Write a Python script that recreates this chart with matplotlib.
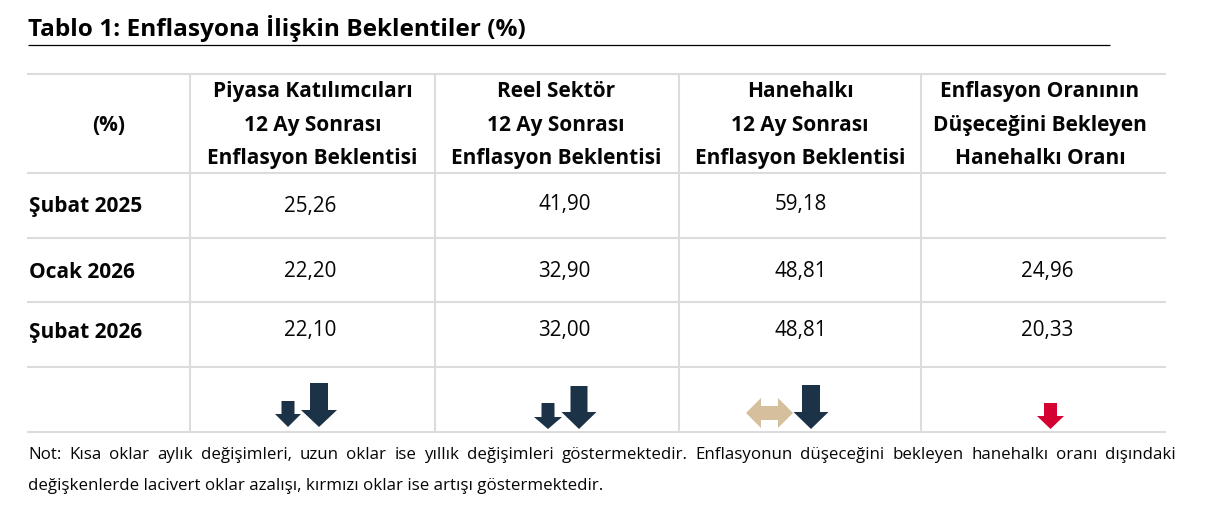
import matplotlib
matplotlib.use('Agg')
import matplotlib.pyplot as plt
from matplotlib.patches import Polygon

plt.rcParams['font.family'] = ['Open Sans', 'DejaVu Sans']

TITLE = 'Tablo 1: Enflasyona İlişkin Beklentiler (%)'
CORNER = '(%)'
HEADERS = [
    ['Piyasa Katılımcıları', '12 Ay Sonrası', 'Enflasyon Beklentisi'],
    ['Reel Sektör', '12 Ay Sonrası', 'Enflasyon Beklentisi'],
    ['Hanehalkı', '12 Ay Sonrası', 'Enflasyon Beklentisi'],
    ['Enflasyon Oranının', 'Düşeceğini Bekleyen', 'Hanehalkı Oranı'],
]
ROWS = ['Şubat 2025', 'Ocak 2026', 'Şubat 2026']
PIYASA = ['25,26', '22,20', '22,10']
REEL = ['41,90', '32,90', '32,00']
HANE = ['59,18', '48,81', '48,81']
DUSECEK = ['', '24,96', '20,33']
NOTE_1 = ('Not: Kısa oklar aylık değişimleri, uzun oklar ise yıllık değişimleri gösterme'
          'ktedir. Enflasyonun düşeceğini bekleyen hanehalkı oranı dışındaki')
NOTE_2 = 'değişkenlerde lacivert oklar azalışı, kırmızı oklar ise artışı göstermektedir.'

NAVY = '#1c3247'
TAN = '#d6bf9c'
RED = '#d50032'
GRID = '#dcdcdc'
INK = '#050505'
HEAD_X = [312.5, 556, 800, 1040]
COL_X = [310, 564.5, 801, 1047.5]
HEAD_Y = [97, 131, 164]
ROW_Y = [[212, 210, 210, 210], [277, 277, 277, 277], [336, 336, 336, 336]]
ROW_LABEL_Y = [212, 278, 338]

fig = plt.figure(figsize=(12.13, 5.14), dpi=100)
ax = fig.add_axes([0, 0, 1, 1])
ax.set_xlim(0, 1213)
ax.set_ylim(514, 0)
ax.axis('off')


def down_arrow(cx, top, neck, bottom, shaft, head, color):
    pts = [(cx - shaft, top), (cx + shaft, top), (cx + shaft, neck), (cx + head, neck),
           (cx, bottom), (cx - head, neck), (cx - shaft, neck)]
    ax.add_patch(Polygon(pts, closed=True, fc=color, ec='none'))


def both_arrow(x0, x1, cy, shaft, head, neck, color):
    pts = [(x0, cy), (x0 + neck, cy - head), (x0 + neck, cy - shaft), (x1 - neck, cy - shaft),
           (x1 - neck, cy - head), (x1, cy), (x1 - neck, cy + head), (x1 - neck, cy + shaft),
           (x0 + neck, cy + shaft), (x0 + neck, cy + head)]
    ax.add_patch(Polygon(pts, closed=True, fc=color, ec='none'))


def justified(line, x0, x1, y, size):
    words = line.split(' ')
    rend = fig.canvas.get_renderer()
    items = [ax.text(x0, y, w, fontsize=size, va='baseline', ha='left', color=INK) for w in words]
    widths = [t.get_window_extent(rend).width for t in items]
    gap = (x1 - x0 - sum(widths)) / (len(words) - 1)
    x = x0
    for t, w in zip(items, widths):
        t.set_x(x)
        x += w + gap


# title and rule
ax.text(28, 36, TITLE, fontsize=17.6, fontweight='bold', va='baseline', ha='left', color='black')
ax.plot([28, 1110], [44.5, 44.5], color='black', lw=0.9, solid_capstyle='butt')

# table grid
for y in [74, 173, 238, 302, 367, 432]:
    ax.plot([27, 1166], [y, y], color=GRID, lw=1.5, solid_capstyle='butt')
for x in [190, 435, 679, 921]:
    ax.plot([x, x], [74, 432], color=GRID, lw=1.5, solid_capstyle='butt')

# header
ax.text(108.5, 131, CORNER, fontsize=15, fontweight='bold', va='baseline', ha='center', color=INK)
for x, lines in zip(HEAD_X, HEADERS):
    for y, s in zip(HEAD_Y, lines):
        ax.text(x, y, s, fontsize=15, fontweight='bold', va='baseline', ha='center', color=INK)

# body
for i, lab in enumerate(ROWS):
    ax.text(29, ROW_LABEL_Y[i], lab, fontsize=15, fontweight='bold', va='baseline', ha='left', color=INK)
    for j, col in enumerate([PIYASA, REEL, HANE, DUSECEK]):
        ax.text(COL_X[j], ROW_Y[i][j], col[i], fontsize=14.9, va='baseline', ha='center', color=INK)

# arrows
down_arrow(288, 401, 414, 427, 6.5, 13, NAVY)
down_arrow(319, 383, 410, 427, 9, 18, NAVY)
down_arrow(548, 403, 417, 429, 6.5, 14, NAVY)
down_arrow(579, 386, 412, 429, 8.5, 17.5, NAVY)
both_arrow(746, 793, 413, 7, 15, 15, TAN)
down_arrow(811, 385, 412, 429, 9, 17.5, NAVY)
down_arrow(1050.5, 403, 416, 429, 6.5, 13.5, RED)

# note
fig.canvas.draw()
justified(NOTE_1, 28, 1176, 459, 12.2)
ax.text(28, 490, NOTE_2, fontsize=12.2, va='baseline', ha='left', color=INK)

fig.savefig('out.png', dpi=100)
